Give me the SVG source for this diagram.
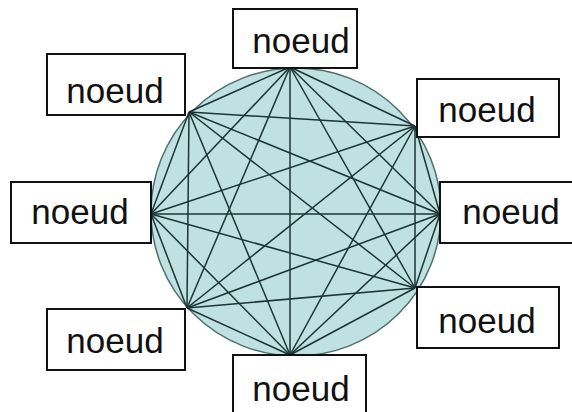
<svg xmlns="http://www.w3.org/2000/svg" width="572" height="412" viewBox="0 0 572 412">
<style>
.bg{fill:#ffffff}
.disc{fill:#bfe1e2;stroke:#4f6e6e;stroke-width:1.5}
.box{fill:#ffffff;stroke:#111111;stroke-width:2}
.lbl{font-family:"Liberation Sans",Arial,sans-serif;font-size:35px;fill:#111111;text-anchor:middle}
#edges line{stroke:#1c3434;stroke-width:1.5}
</style>
<rect class="bg" x="0" y="0" width="572" height="412"/>
<ellipse class="disc" cx="296" cy="212" rx="145" ry="144"/>
<g id="edges">
<line x1="290" y1="67" x2="415" y2="126"/>
<line x1="290" y1="67" x2="440" y2="214"/>
<line x1="290" y1="67" x2="415" y2="288"/>
<line x1="290" y1="67" x2="290" y2="355"/>
<line x1="290" y1="67" x2="187" y2="308"/>
<line x1="290" y1="67" x2="151" y2="214"/>
<line x1="290" y1="67" x2="189" y2="112"/>
<line x1="415" y1="126" x2="440" y2="214"/>
<line x1="415" y1="126" x2="415" y2="288"/>
<line x1="415" y1="126" x2="290" y2="355"/>
<line x1="415" y1="126" x2="187" y2="308"/>
<line x1="415" y1="126" x2="151" y2="214"/>
<line x1="415" y1="126" x2="189" y2="112"/>
<line x1="440" y1="214" x2="415" y2="288"/>
<line x1="440" y1="214" x2="290" y2="355"/>
<line x1="440" y1="214" x2="187" y2="308"/>
<line x1="440" y1="214" x2="151" y2="214"/>
<line x1="440" y1="214" x2="189" y2="112"/>
<line x1="415" y1="288" x2="290" y2="355"/>
<line x1="415" y1="288" x2="187" y2="308"/>
<line x1="415" y1="288" x2="151" y2="214"/>
<line x1="415" y1="288" x2="189" y2="112"/>
<line x1="290" y1="355" x2="187" y2="308"/>
<line x1="290" y1="355" x2="151" y2="214"/>
<line x1="290" y1="355" x2="189" y2="112"/>
<line x1="187" y1="308" x2="151" y2="214"/>
<line x1="187" y1="308" x2="189" y2="112"/>
<line x1="151" y1="214" x2="189" y2="112"/>
</g>
<g id="node-top"><rect class="box" x="233" y="9" width="124" height="59"/><text class="lbl" x="301" y="53">noeud</text></g>
<g id="node-upper-right"><rect class="box" x="417" y="79" width="142" height="58"/><text class="lbl" x="487" y="122">noeud</text></g>
<g id="node-right"><rect class="box" x="440" y="182" width="140" height="61"/><text class="lbl" x="511" y="224">noeud</text></g>
<g id="node-lower-right"><rect class="box" x="417" y="287" width="142" height="61"/><text class="lbl" x="487" y="333">noeud</text></g>
<g id="node-bottom"><rect class="box" x="233" y="355" width="133" height="62"/><text class="lbl" x="301" y="401">noeud</text></g>
<g id="node-lower-left"><rect class="box" x="47" y="309" width="138" height="61"/><text class="lbl" x="115" y="353">noeud</text></g>
<g id="node-left"><rect class="box" x="11" y="182" width="140" height="61"/><text class="lbl" x="80" y="224">noeud</text></g>
<g id="node-upper-left"><rect class="box" x="47" y="54" width="138" height="61"/><text class="lbl" x="115" y="103">noeud</text></g>
</svg>
